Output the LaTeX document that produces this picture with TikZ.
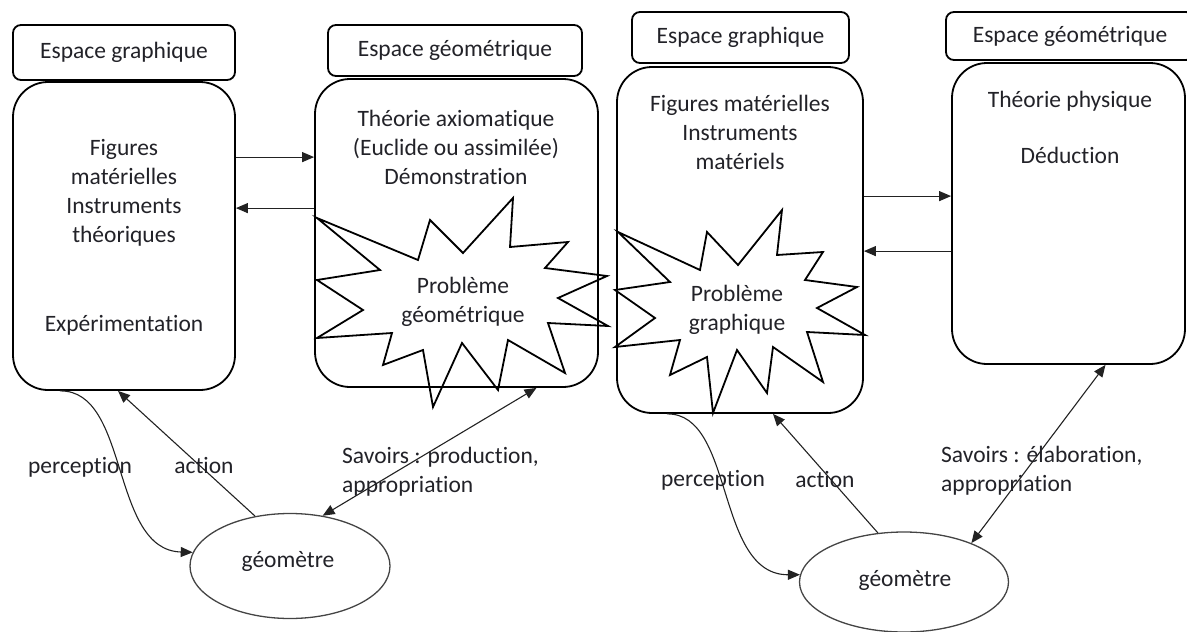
\documentclass[tikz,border=0pt]{standalone}
\usepackage{fontspec}
\setmainfont{Carlito}[Ligatures={NoCommon}]
\usetikzlibrary{arrows.meta,shapes.geometric}
\definecolor{textcol}{HTML}{222228}
\definecolor{linecol}{HTML}{222222}
\definecolor{ellcol}{HTML}{444444}
\newcommand\txtfont{\fontsize{23.5}{29}\selectfont}
\begin{document}
\begin{tikzpicture}[x=1pt,y=-1pt,
  hdr/.style={draw=black, line width=1.8pt, rounded corners=8pt, inner sep=0pt, font=\txtfont, text=textcol},
  mainbox/.style={draw=black, line width=1.8pt, rounded corners=35pt, inner sep=0pt},
  txt/.style={anchor=base, inner sep=0pt, align=center, font=\txtfont, text=textcol},
  lbl/.style={anchor=base west, inner sep=0pt, align=left, font=\txtfont, text=textcol},
  arr/.style={-{Triangle[length=12pt,width=10pt]}, line width=1.1pt, draw=linecol},
  darr/.style={{Triangle[length=12pt,width=10pt]}-{Triangle[length=12pt,width=10pt]}, line width=1.1pt, draw=linecol},
  burst/.style={draw=black, line width=1.8pt, line join=miter},
  geo/.style={draw=ellcol, ellipse, line width=1.3pt, inner sep=0pt}
]
\useasboundingbox (0,0) rectangle (1187,632);

% ---------- left diagram ----------
\node[hdr, minimum width=222pt, minimum height=55pt] (hA) at (124,52.5) {Espace graphique};
\node[mainbox, minimum width=222pt, minimum height=308pt] (A) at (124,236) {};
\node[hdr, minimum width=254pt, minimum height=51pt] (hB) at (455,50.5) {Espace géométrique};
\node[mainbox, minimum width=283pt, minimum height=308pt] (B) at (456.5,233) {};

\node[txt] (tA1) at (124,242.5) {Figures\\matérielles\\Instruments\\théoriques};
\node[txt] (tA2) at (124,331.5) {Expérimentation};
\node[txt] (tB1) at (456,184) {Théorie axiomatique\\(Euclide ou assimilée)\\Démonstration};

\draw[burst] (317,218) -- (418,260) -- (430,220) -- (463,253) -- (513,198) -- (510,247)
  -- (568,242) -- (545,268) -- (607,276) -- (558,298) -- (608,326) -- (548,323)
  -- (565,373) -- (508,340) -- (498,390) -- (462,343) -- (433,407) -- (423,350)
  -- (383,365) -- (392,333) -- (317,338) -- (363,310) -- (317,280) -- (380,270) -- cycle;
\node[txt] (pB) at (463,322) {Problème\\géométrique};

\node[geo, minimum width=200pt, minimum height=105pt] (EA) at (290,566) {};
\node[txt] (gA) at (288,567) {géomètre};

\draw[arr] ([yshift=-76pt]A.north east) -- ([yshift=-79pt]B.north west);
\draw[arr] ([yshift=-130pt]B.north west) -- ([yshift=-127pt]A.north east);
\draw[arr] (EA.125) -- ([xshift=-6pt]A.south);
\draw[arr] ([xshift=-64pt]A.south) .. controls (130,390) and (110,550) .. (EA.172);
\draw[darr] ([xshift=80pt]B.south) -- (EA.57);

\node[txt] (perA) at (80,473.5) {perception};
\node[txt] (actA) at (204,473.5) {action};
\node[lbl] (savA) at (342,492.5) {Savoirs : production,\\appropriation};

% ---------- right diagram ----------
\node[hdr, minimum width=217pt, minimum height=51pt] (hC) at (740.5,37.5) {Espace graphique};
\node[mainbox, minimum width=246pt, minimum height=346pt] (C) at (740,240) {};
\node[hdr, minimum width=248pt, minimum height=48pt] (hD) at (1070,36) {Espace géométrique};
\node[mainbox, minimum width=233pt, minimum height=301pt] (D) at (1068.5,213.5) {};

\node[txt] (tC1) at (740,169.5) {Figures matérielles\\Instruments\\matériels};
\node[txt] (tD1) at (1070,107.5) {Théorie physique};
\node[txt] (tD2) at (1070,163.5) {Déduction};

\draw[burst] (618,232) -- (700,270) -- (707,232) -- (738,265) -- (782,210) -- (777,255)
  -- (823,252) -- (805,280) -- (857,287) -- (817,308) -- (865,335) -- (807,332)
  -- (823,382) -- (773,347) -- (767,393) -- (737,350) -- (713,413) -- (707,357)
  -- (670,375) -- (680,340) -- (615,347) -- (655,318) -- (615,290) -- (670,282) -- cycle;
\node[txt] (pC) at (737,330.5) {Problème\\graphique};

\node[geo, minimum width=209pt, minimum height=100pt] (EC) at (904,582) {};
\node[txt] (gC) at (905,586) {géomètre};

\draw[arr] ([yshift=-130pt]C.north east) -- ([yshift=-134pt]D.north west);
\draw[arr] ([yshift=-189pt]D.north west) -- ([yshift=-185pt]C.north east);
\draw[arr] (EC.118) -- ([xshift=33pt]C.south);
\draw[arr] ([xshift=-73pt]C.south) .. controls (735,413) and (715,575) .. (EC.176);
\draw[darr] ([xshift=37pt]D.south) -- (EC.30);

\node[txt] (perC) at (713,486.5) {perception};
\node[txt] (actC) at (825,487.5) {action};
\node[lbl] (savC) at (941,491.5) {Savoirs : élaboration,\\appropriation};
\end{tikzpicture}
\end{document}
